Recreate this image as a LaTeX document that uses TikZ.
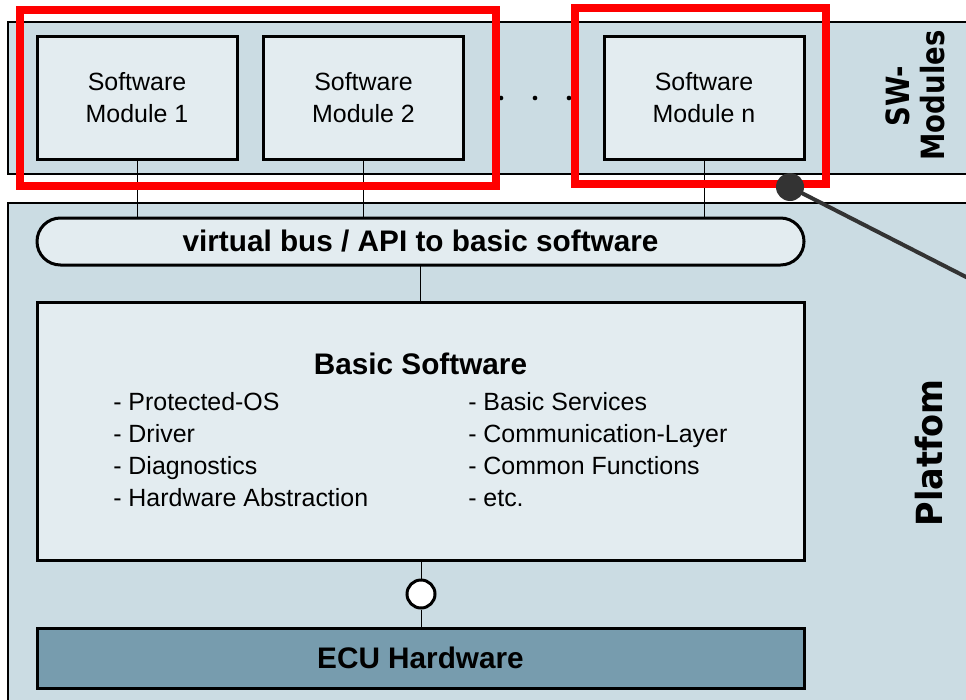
\documentclass[tikz,border=0pt]{standalone}
\usepackage{fontspec}
\setmainfont{Liberation Sans}
\newfontfamily\sidefont{DejaVu Sans}
\definecolor{bandfill}{HTML}{CBDCE3}
\definecolor{boxfill}{HTML}{E3ECF0}
\definecolor{hwfill}{HTML}{779CAE}
\definecolor{pingray}{HTML}{333333}
\begin{document}
\begin{tikzpicture}[x=0.75pt,y=-0.75pt,
  band/.style={draw=black,line width=1.5pt,fill=bandfill},
  plainbox/.style={rectangle,draw=black,line width=2.25pt,fill=boxfill,
    inner sep=0pt,outer sep=0pt},
  modbox/.style={plainbox,minimum width=150pt,minimum height=91.5pt,
    align=center,font=\fontsize{18.7}{24}\selectfont},
  wide/.style={minimum width=575.25pt},
  boldtext/.style={font=\bfseries\fontsize{22.3}{26}\selectfont},
  listitem/.style={anchor=base west,inner sep=0pt,font=\fontsize{18.7}{24}\selectfont},
  link/.style={draw=black,line width=0.75pt},
  hilite/.style={draw=red,line width=6pt},
  sidelabel/.style={rotate=90,inner sep=0pt},
  dotmark/.style={circle,fill=black,inner sep=0pt,minimum size=3.5pt}]
\useasboundingbox (0,0) rectangle (966,699);
\clip (0,0) rectangle (966,699);

% layer bands
\path[band] (8,22) rectangle (1010,174);
\path[band] (8,203) rectangle (1010,730);

% software modules
\node[modbox] (m1) at (137,98) {Software\\Module 1};
\node[modbox] (m2) at (363.5,98) {Software\\Module 2};
\node[modbox] (mn) at (704,98) {Software\\Module n};
\node[dotmark] (d1) at (501,98) {};
\node[dotmark] (d2) at (535,98) {};
\node[dotmark] (d3) at (569,98) {};

% virtual bus
\node[plainbox,wide,minimum height=35.25pt,rounded corners=17.6pt,boldtext]
  (bus) at (420.5,241.5) {virtual bus / API to basic software};

% basic software
\node[plainbox,wide,minimum height=193.5pt] (bsw) at (420.5,431) {};
\node[boldtext,anchor=base,inner sep=0pt] (bswtitle) at (420.5,374.6) {Basic Software};
\node[listitem] (l1) at (113,410) {- Protected-OS};
\node[listitem] (l2) at (113,442) {- Driver};
\node[listitem] (l3) at (113,474) {- Diagnostics};
\node[listitem] (l4) at (113,506) {- Hardware Abstraction};
\node[listitem] (r1) at (468,410) {- Basic Services};
\node[listitem] (r2) at (468,442) {- Communication-Layer};
\node[listitem] (r3) at (468,474) {- Common Functions};
\node[listitem] (r4) at (468,506) {- etc.};

% hardware
\node[plainbox,wide,minimum height=45pt,fill=hwfill,boldtext] (ecu) at (420.5,658) {ECU Hardware};
\node[circle,draw=black,line width=2.25pt,fill=white,inner sep=0pt,
  minimum size=21pt] (iface) at (421,594) {};

% connections
\draw[link] (m1.south) -- (m1.south |- bus.north);
\draw[link] (m2.south) -- (m2.south |- bus.north);
\draw[link] (mn.south) -- (mn.south |- bus.north);
\draw[link] (bus.south) -- (bus.south |- bsw.north);
\draw[link] (iface.north) -- (iface.north |- bsw.south);
\draw[link] (iface.south) -- (iface.south |- ecu.north);

% side labels
\node[sidelabel] (swa) at (897.5,96)
  {\sidefont\bfseries\fontsize{24}{28}\selectfont\scalebox{0.86}[1]{SW-}};
\node[sidelabel] (swb) at (933,95.5)
  {\sidefont\bfseries\fontsize{24}{28}\selectfont\scalebox{0.86}[1]{Modules}};
\node[sidelabel] (plat) at (929,453)
  {\sidefont\bfseries\fontsize{27}{30}\selectfont\scalebox{0.93}[1]{Platfom}};

% highlights
\draw[hilite] (20,10) rectangle (496,186);
\draw[hilite] (575,8.5) rectangle (826,184);

% pointer
\node[circle,fill=pingray,inner sep=0pt,minimum size=21pt] (pin) at (790,187) {};
\coordinate (far) at (1150,371);
\draw[pingray,line width=3pt] (pin.center) -- (far);
\end{tikzpicture}
\end{document}
